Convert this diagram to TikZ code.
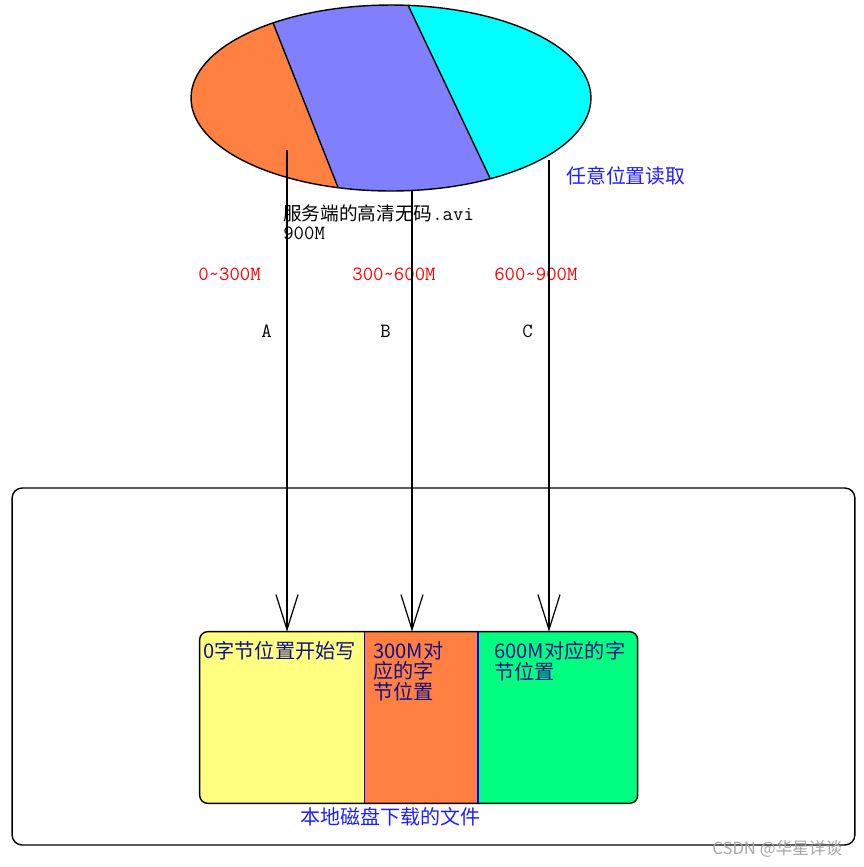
\documentclass[tikz,border=0pt]{standalone}
\usepackage{fontspec}
\newfontfamily\cjk{Noto Sans CJK SC}
\usepackage{xcolor}
\usetikzlibrary{arrows.meta,positioning,shapes.geometric}

\definecolor{sliceorange}{HTML}{FF8040}
\definecolor{slicepurple}{HTML}{8080FF}
\definecolor{slicecyan}{HTML}{00FFFF}
\definecolor{partyellow}{HTML}{FFFF80}
\definecolor{partgreen}{HTML}{00FF80}
\definecolor{textnavy}{HTML}{10108A}
\definecolor{textblue}{HTML}{1E1EFF}

\begin{document}
\begin{tikzpicture}[
  x=0.02cm, y=-0.02cm,
  arr/.style={-{Straight Barb[length=0.7cm,width=0.44cm]}, line width=0.7pt},
  spanlabel/.style={font=\ttfamily\fontsize{11.5}{12}\selectfont, text=red, inner sep=0, anchor=north west},
  tag/.style={font=\ttfamily\fontsize{11.5}{12}\selectfont, inner sep=0, anchor=north west},
  boxtext/.style={font=\cjk\fontsize{11.5}{10.2}\selectfont, text=textnavy, inner sep=0,
                  anchor=north west, align=left},
  part/.style={minimum height=3.42cm, inner sep=0}
]
  \useasboundingbox (0,0) rectangle (864,867);

  \begin{scope}
    \clip (391,98) ellipse [x radius=4cm, y radius=1.86cm];
    \fill[sliceorange] (180,0) -- (264,0) -- (343,200) -- (180,200) -- cycle;
    \fill[slicepurple] (264,0) -- (405.6,0) -- (500.4,200) -- (343,200) -- cycle;
    \fill[slicecyan] (405.6,0) -- (600,0) -- (600,200) -- (500.4,200) -- cycle;
    \draw[line width=0.8pt] (264,0) -- (343,200) (405.6,0) -- (500.4,200);
  \end{scope}
  \node[draw, ellipse, minimum width=8cm, minimum height=3.72cm, inner sep=0,
        line width=0.8pt] (srv) at (391,98) {};

  \node[tag, align=left, font=\ttfamily\fontsize{11.5}{10.8}\selectfont] (name) at (283,204)
    {{\cjk\fontsize{10.6}{10.8}\selectfont 服务端的高清无码}.avi\\900M};
  \node[font=\cjk\fontsize{11.3}{13}\selectfont, text=textblue, inner sep=0,
        anchor=north west] (any) at (566,166) {任意位置读取};

  \node[spanlabel] (ra) at (198,268) {0\textasciitilde300M};
  \node[spanlabel] (rb) at (352,268) {300\textasciitilde600M};
  \node[spanlabel] (rc) at (494,268) {600\textasciitilde900M};
  \node[tag] (la) at (261,325) {A};
  \node[tag] (lb) at (380,325) {B};
  \node[tag] (lc) at (522,325) {C};

  \node[draw, rounded corners=0.2cm, minimum width=16.86cm, minimum height=7.14cm,
        line width=0.8pt] (disk) at (433.5,666.5) {};

  \node[part, minimum width=3.28cm] (lo) at (282,717.5) {};
  \node[part, minimum width=2.26cm, right=0pt of lo] (mid) {};
  \node[part, minimum width=3.18cm, right=0pt of mid] (hi) {};
  \begin{scope}
    \clip[rounded corners=0.16cm] (lo.north west) rectangle (hi.south east);
    \fill[partyellow] (lo.north west) rectangle (lo.south east);
    \fill[sliceorange] (mid.north west) rectangle (mid.south east);
    \fill[partgreen] (hi.north west) rectangle (hi.south east);
  \end{scope}
  \draw[blue, line width=0.8pt] (mid.north west) -- (mid.south west)
                                (mid.north east) -- (mid.south east);
  \draw[rounded corners=0.16cm, line width=0.8pt] (lo.north west) rectangle (hi.south east);

  \node[boxtext] (lotext) at (203,641) {0字节位置开始写};
  \node[boxtext] (midtext) at (373,641) {300M对\\应的字\\节位置};
  \node[boxtext] (hitext) at (494,641) {600M对应的字\\节位置};
  \node[font=\cjk\fontsize{11.4}{13}\selectfont, text=textblue, inner sep=0,
        anchor=north west] (file) at (300,807) {本地磁盘下载的文件};

  \coordinate (a) at (287,150);
  \coordinate (b) at (412,191);
  \coordinate (c) at (549,160);
  \draw[arr] (a) -- (a |- lo.north);
  \draw[arr] (b) -- (b |- mid.north);
  \draw[arr] (c) -- (c |- hi.north);

  \node[font=\cjk\fontsize{9.5}{11}\selectfont, text=gray!70, inner sep=0,
        anchor=north west] (mark) at (712,840) {CSDN @华星详谈};
\end{tikzpicture}
\end{document}
